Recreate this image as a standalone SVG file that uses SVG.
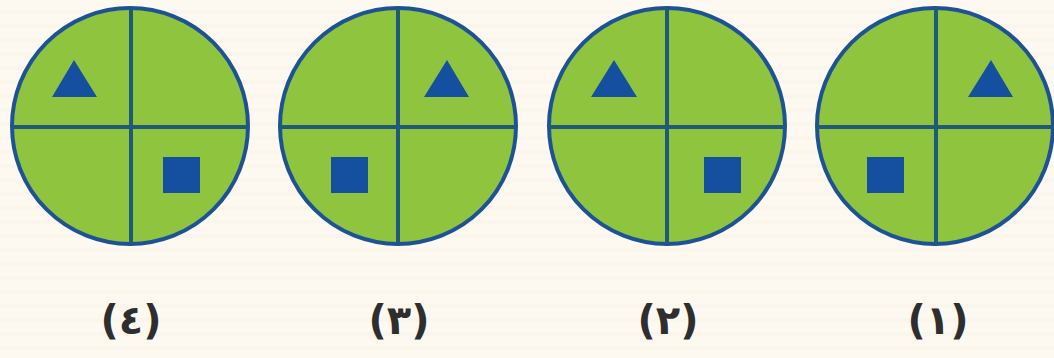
<svg xmlns="http://www.w3.org/2000/svg" width="1054" height="358" viewBox="0 0 1054 358">
<style>
.disc{fill:#8fc43f;stroke:#1d5396;stroke-width:4}
.div{stroke:#1f5a78;stroke-width:4}
.mark{fill:#1550a0}
.lbl{font-family:"DejaVu Sans",sans-serif;font-size:40px;font-weight:bold;fill:#2e2e2e;text-anchor:middle;letter-spacing:2px}
</style>
<defs>
<pattern id="stripes" width="10" height="14" patternUnits="userSpaceOnUse">
<rect width="10" height="14" fill="#fdf9f0"/>
<rect y="10" width="10" height="4" fill="#fbf6ec"/>
</pattern>
</defs>
<rect width="1054" height="358" fill="url(#stripes)"/>
<g id="circle4">
<circle class="disc" cx="130" cy="126" r="118"/>
<line class="div" x1="131" y1="8" x2="131" y2="244"/>
<line class="div" x1="12" y1="127" x2="248" y2="127"/>
<polygon class="mark" points="74,60 52,97 97,97"/>
<rect class="mark" x="163" y="157" width="37" height="36"/>
<text class="lbl" x="131" y="334">(٤)</text>
</g>
<g id="circle3">
<circle class="disc" cx="398" cy="126" r="118"/>
<line class="div" x1="398" y1="8" x2="398" y2="244"/>
<line class="div" x1="280" y1="127" x2="516" y2="127"/>
<polygon class="mark" points="447,60 424,97 469,97"/>
<rect class="mark" x="331" y="157" width="37" height="36"/>
<text class="lbl" x="399" y="334">(٣)</text>
</g>
<g id="circle2">
<circle class="disc" cx="667" cy="126" r="118"/>
<line class="div" x1="667" y1="8" x2="667" y2="244"/>
<line class="div" x1="549" y1="127" x2="785" y2="127"/>
<polygon class="mark" points="614,60 591,97 637,97"/>
<rect class="mark" x="704" y="157" width="37" height="36"/>
<text class="lbl" x="668" y="334">(٢)</text>
</g>
<g id="circle1">
<circle class="disc" cx="935" cy="126" r="118"/>
<line class="div" x1="936" y1="8" x2="936" y2="244"/>
<line class="div" x1="817" y1="127" x2="1053" y2="127"/>
<polygon class="mark" points="991,60 968,97 1013,97"/>
<rect class="mark" x="867" y="157" width="37" height="36"/>
<text class="lbl" x="938" y="334">(١)</text>
</g>
<g id="connectors"/>
</svg>
